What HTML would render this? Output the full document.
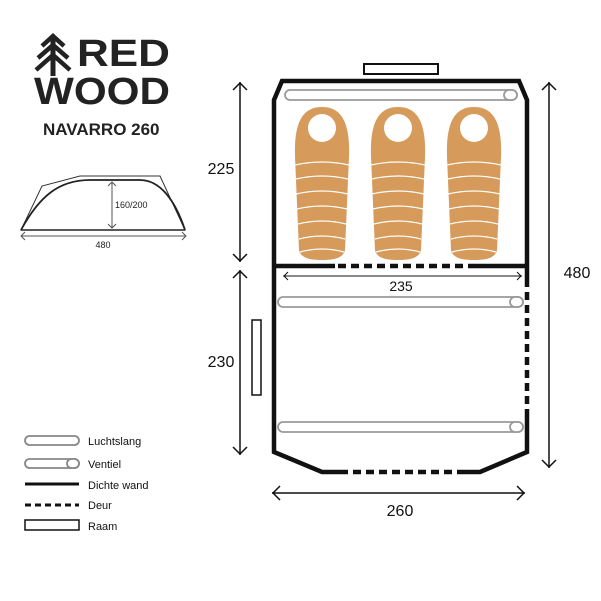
<!DOCTYPE html>
<html><head><meta charset="utf-8"><style>
html,body{margin:0;padding:0;background:#fff;}
svg{display:block;font-family:"Liberation Sans",sans-serif;}
</style></head><body>
<svg width="601" height="601" viewBox="0 0 601 601" xmlns="http://www.w3.org/2000/svg">
<rect width="601" height="601" fill="#fff"/>
<!-- logo tree -->
<g fill="none" stroke="#222" stroke-linejoin="miter">
<line x1="53" y1="36" x2="53" y2="76" stroke-width="5"/>
<polyline points="42,46 53,36 64,46" stroke-width="4.5"/>
<polyline points="38,58 53,45 68,58" stroke-width="4.5"/>
<polyline points="36,70 53,55 70,70" stroke-width="4.5"/>
</g>
<text x="77" y="66" font-size="38" font-weight="bold" fill="#222" textLength="93" lengthAdjust="spacingAndGlyphs">RED</text>
<text x="34" y="104" font-size="38" font-weight="bold" fill="#222" textLength="136" lengthAdjust="spacingAndGlyphs">WOOD</text>
<text x="43" y="135" font-size="17" font-weight="bold" fill="#222">NAVARRO 260</text>
<!-- side view -->
<polygon points="21,230 42,186 80,176 160,176 185,230" fill="none" stroke="#333" stroke-width="1"/>
<path d="M21,230 C40,195 60,180 90,180 L140,180 C160,180 175,200 185,230" fill="none" stroke="#222" stroke-width="1.8"/>
<line x1="21" y1="230" x2="185" y2="230" stroke="#222" stroke-width="1.5"/>
<line x1="112" y1="182" x2="112" y2="228" stroke="#555" stroke-width="1"/>
<polyline points="108,186 112,182 116,186" fill="none" stroke="#555"/>
<polyline points="108,224 112,228 116,224" fill="none" stroke="#555"/>
<text x="115" y="208" font-size="9" fill="#222">160/200</text>
<line x1="21" y1="236" x2="186" y2="236" stroke="#555" stroke-width="1"/>
<polyline points="25,232 21,236 25,240 M28,232 24,236 28,240" fill="none" stroke="#555"/>
<polyline points="182,232 186,236 182,240 M179,232 183,236 179,240" fill="none" stroke="#555"/>
<text x="103" y="248" font-size="9" text-anchor="middle" fill="#222">480</text>
<!-- windows -->
<rect x="364" y="64" width="74" height="10" fill="#fff" stroke="#111" stroke-width="2"/>
<rect x="252" y="320" width="9" height="75" fill="#fff" stroke="#111" stroke-width="1.5"/>
<!-- tent outline -->
<g stroke="#111" stroke-width="4.5" fill="none" stroke-linecap="butt">
<polyline points="274,287 274,100 282,81 519,81 527,100 527,287"/>
<polyline points="527,415 527,452 480,472 460,472"/>
<polyline points="340,472 322,472 274,452 274,287"/>
<line x1="340" y1="472" x2="460" y2="472" stroke-dasharray="8,5"/>
<line x1="527" y1="292" x2="527" y2="415" stroke-dasharray="8,5"/>
<line x1="274" y1="266" x2="335" y2="266"/>
<line x1="470" y1="266" x2="527" y2="266"/>
<line x1="338" y1="266" x2="470" y2="266" stroke-dasharray="8,5"/>
</g>
<!-- tubes -->
<g fill="#fff" stroke="#999" stroke-width="1.8">
<rect x="285" y="90" width="232" height="10" rx="5"/>
<rect x="504" y="90" width="13" height="10" rx="5"/>
<rect x="278" y="297" width="245" height="10" rx="5"/>
<rect x="510" y="297" width="13" height="10" rx="5"/>
<rect x="278" y="422" width="245" height="10" rx="5"/>
<rect x="510" y="422" width="13" height="10" rx="5"/>
</g>
<!-- sleeping bags -->
<defs>
<g id="bag">
<path d="M-27,25 C-28,-5 -22,-25 0,-25 C22,-25 28,-5 27,25 L23,118 C21,127 10,128 0,128 C-10,128 -21,127 -23,118 Z" fill="#d69a5b"/>
<circle cx="0" cy="-4" r="14" fill="#fff"/>
<g stroke="#fff" stroke-width="1.2" fill="none">
<path d="M-27,33 Q0,27 27,33"/><path d="M-26,47 Q0,41 26,47"/><path d="M-26,62 Q0,56 26,62"/>
<path d="M-25,77 Q0,71 25,77"/><path d="M-24,92 Q0,86 24,92"/><path d="M-23,107 Q0,101 23,107"/><path d="M-22,120 Q0,114 22,120"/>
</g>
</g>
</defs>
<use href="#bag" x="322" y="132"/>
<use href="#bag" x="398" y="132"/>
<use href="#bag" x="474" y="132"/>
<!-- dimension arrows -->
<g stroke="#111" stroke-width="1.5" fill="none">
<line x1="240" y1="82" x2="240" y2="262"/>
<polyline points="233,90 240,83 247,90 M233,96 240,89 247,96"/>
<polyline points="233,254 240,261 247,254 M233,248 240,255 247,248"/>
<line x1="240" y1="270" x2="240" y2="455"/>
<polyline points="233,278 240,271 247,278 M233,284 240,277 247,284"/>
<polyline points="233,447 240,454 247,447 M233,441 240,448 247,441"/>
<line x1="549" y1="82" x2="549" y2="468"/>
<polyline points="542,90 549,83 556,90 M542,96 549,89 556,96"/>
<polyline points="542,460 549,467 556,460 M542,454 549,461 556,454"/>
<line x1="272" y1="493" x2="525" y2="493"/>
<polyline points="280,486 273,493 280,500 M286,486 279,493 286,500"/>
<polyline points="517,486 524,493 517,500 M511,486 518,493 511,500"/>
<line x1="283" y1="276" x2="522" y2="276" stroke-width="1"/>
<polyline points="288,272 284,276 288,280 M291,272 287,276 291,280" stroke-width="1"/>
<polyline points="517,272 521,276 517,280 M514,272 518,276 514,280" stroke-width="1"/>
</g>
<g font-size="16" fill="#111" text-anchor="middle">
<text x="221" y="174">225</text>
<text x="221" y="367">230</text>
<text x="577" y="278">480</text>
<text x="400" y="516">260</text>
<text x="401" y="291" font-size="14">235</text>
</g>
<!-- legend -->
<g fill="#fff" stroke="#888" stroke-width="1.8">
<rect x="25" y="436" width="54" height="9" rx="4.5"/>
<rect x="25" y="459" width="54" height="9" rx="4.5"/>
<rect x="67" y="459" width="12" height="9" rx="4.5"/>
</g>
<line x1="25" y1="484" x2="79" y2="484" stroke="#111" stroke-width="3"/>
<line x1="25" y1="505" x2="79" y2="505" stroke="#111" stroke-width="3" stroke-dasharray="6,4"/>
<rect x="25" y="520" width="54" height="10" fill="#fff" stroke="#111" stroke-width="1.5"/>
<g font-size="11" fill="#111">
<text x="88" y="445">Luchtslang</text>
<text x="88" y="468">Ventiel</text>
<text x="88" y="489">Dichte wand</text>
<text x="88" y="509">Deur</text>
<text x="88" y="530">Raam</text>
</g>
</svg>
</body></html>
